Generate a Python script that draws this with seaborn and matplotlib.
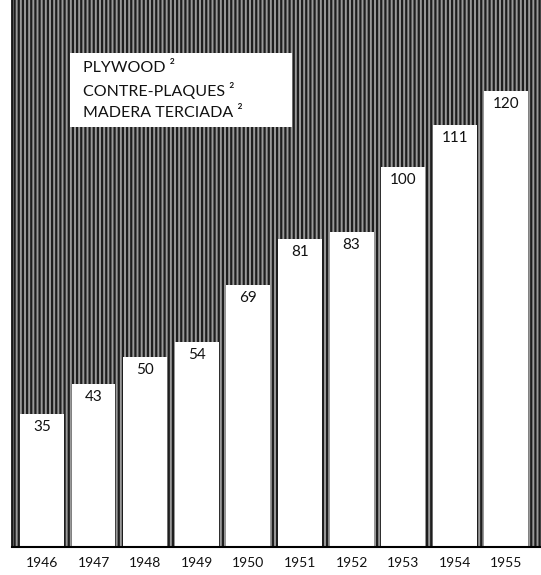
import matplotlib
matplotlib.use("Agg")
import matplotlib.pyplot as plt
import seaborn as sns
import pandas as pd
from matplotlib.patches import Rectangle

years = ["1946", "1947", "1948", "1949", "1950", "1951", "1952", "1953", "1954", "1955"]
values = [35, 43, 50, 54, 69, 81, 83, 100, 111, 120]
legend_lines = ["PLYWOOD ²", "CONTRE-PLAQUES ²", "MADERA TERCIADA ²"]

sns.set_theme(style="white")
plt.rcParams['font.family'] = ['Lato', 'DejaVu Sans']
plt.rcParams['hatch.linewidth'] = 1.6

df = pd.DataFrame({"year": years, "value": values})

fig = plt.figure(figsize=(5.41, 5.75), dpi=100)
ax = fig.add_axes([12/541, 28/575, 529/541, 547/575])
ax.set_facecolor("#8c8c8c")

# textured background
bg = Rectangle((0, 0), 1, 1, transform=ax.transAxes, facecolor="#9a9a9a",
               edgecolor="#1e1e1e", hatch="||||", linewidth=0, zorder=0)
ax.add_patch(bg)

sns.barplot(data=df, x="year", y="value", color="white", width=0.85,
            saturation=1, edgecolor="none", ax=ax, zorder=2)

for i, v in enumerate(values):
    ax.annotate(str(v), (i, v), xytext=(0, -13), textcoords="offset pixels",
                ha="center", va="center", fontsize=11, color="#111111", zorder=4)

ax.set_xlim(-0.58, 9.67)
ax.set_ylim(0, 144)
ax.set_xlabel("")
ax.set_ylabel("")
ax.set_yticks([])
ax.tick_params(axis="x", length=0, pad=7, labelsize=10, colors="#111111")

for s in ["top", "right"]:
    ax.spines[s].set_visible(False)
ax.spines["left"].set_color("black")
ax.spines["left"].set_linewidth(1.2)
ax.spines["bottom"].set_color("black")
ax.spines["bottom"].set_linewidth(1.5)
for s in ["left", "bottom"]:
    ax.spines[s].set_zorder(5)

# legend box
box = Rectangle((0.110, 0.768), 0.419, 0.135, transform=ax.transAxes,
                facecolor="white", edgecolor="none", zorder=3)
ax.add_patch(box)
ys = [0.876, 0.835, 0.794]
for line, y in zip(legend_lines, ys):
    ax.text(0.134, y, line, transform=ax.transAxes, ha="left", va="center",
            fontsize=11.5, color="#111111", zorder=4)

fig.savefig("out.png", dpi=100)
